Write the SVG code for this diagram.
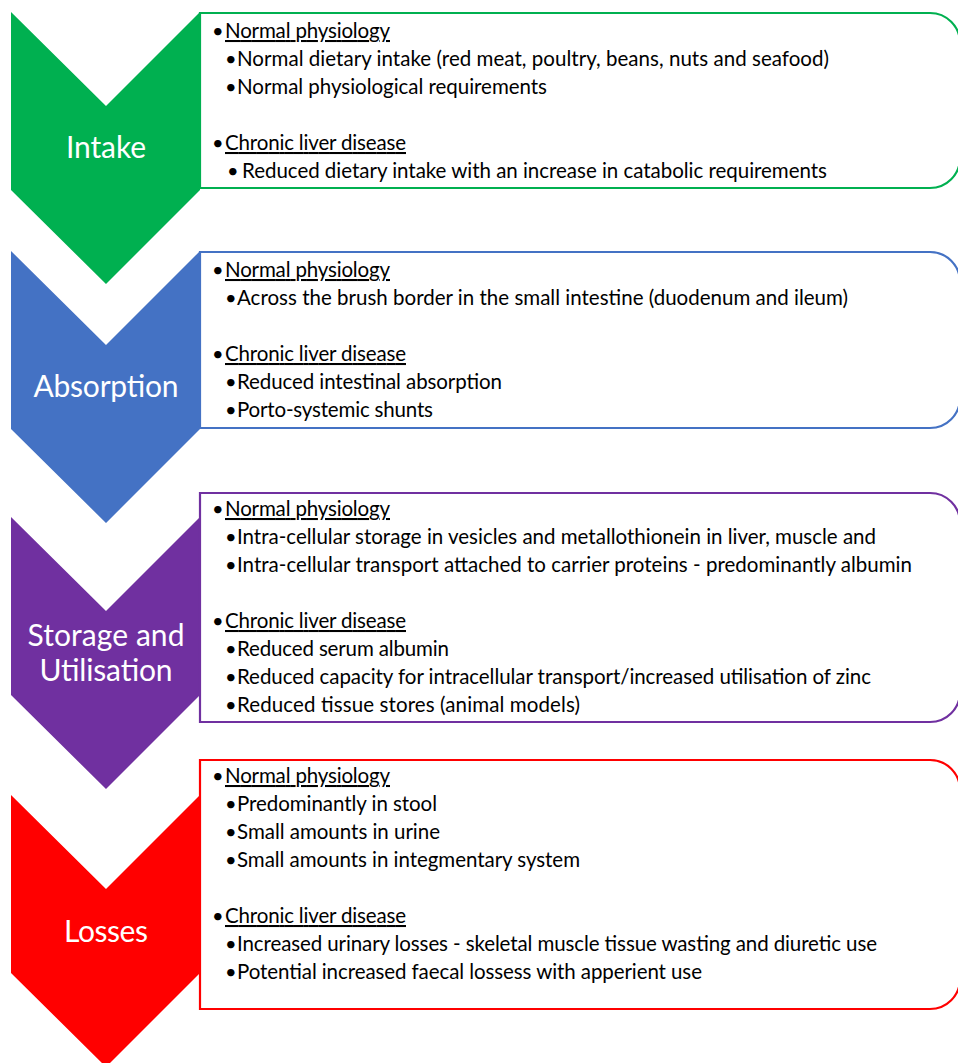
<svg xmlns="http://www.w3.org/2000/svg" width="958" height="1063" viewBox="0 0 958 1063">
<style>
.t{font-family:Lato,"Liberation Sans",sans-serif;font-size:20.5px;fill:#000}
.b{font-family:Lato,"Liberation Sans",sans-serif;font-size:20px;fill:#000}
.h{text-decoration:underline}
.c{font-family:Lato,"Liberation Sans",sans-serif;font-size:30px;fill:#fff;text-anchor:middle}
.box{fill:#fff;stroke-width:2.2}
</style>
<rect width="958" height="1063" fill="#fff"/>
<g id="intake">
<path d="M11,12 L106,106 L200,12 L200,190 L106,284 L11,190 Z" fill="#00B050"/>
<path class="box" stroke="#00B050" d="M200,13 H930 A30,30 0 0 1 960,43 V158 A30,30 0 0 1 930,188 H200 Z"/>
<text class="c" x="106" y="158" textLength="80">Intake</text>
<text class="b" x="212" y="38">•</text><text class="t h" x="225" y="38" textLength="165">Normal physiology</text>
<text class="b" x="225" y="66">•</text><text class="t" x="237" y="66" textLength="592">Normal dietary intake (red meat, poultry, beans, nuts and seafood)</text>
<text class="b" x="225" y="94">•</text><text class="t" x="237" y="94" textLength="310">Normal physiological requirements</text>
<text class="b" x="212" y="150">•</text><text class="t h" x="225" y="150" textLength="181">Chronic liver disease</text>
<text class="b" x="227" y="178">•</text><text class="t" x="242" y="178" textLength="585">Reduced dietary intake with an increase in catabolic requirements</text>
</g>
<g id="absorption">
<path d="M11,251 L106,345 L200,251 L200,429 L106,523 L11,429 Z" fill="#4472C4"/>
<path class="box" stroke="#4472C4" d="M200,252 H930 A30,30 0 0 1 960,282 V398 A30,30 0 0 1 930,428 H200 Z"/>
<text class="c" x="106" y="397" textLength="145">Absorption</text>
<text class="b" x="212" y="277">•</text><text class="t h" x="225" y="277" textLength="165">Normal physiology</text>
<text class="b" x="225" y="305">•</text><text class="t" x="237" y="305" textLength="611">Across the brush border in the small intestine (duodenum and ileum)</text>
<text class="b" x="212" y="361">•</text><text class="t h" x="225" y="361" textLength="181">Chronic liver disease</text>
<text class="b" x="225" y="389">•</text><text class="t" x="237" y="389" textLength="265">Reduced intestinal absorption</text>
<text class="b" x="225" y="417">•</text><text class="t" x="237" y="417" textLength="196">Porto-systemic shunts</text>
</g>
<g id="storage">
<path d="M11,517 L106,611 L200,517 L200,695 L106,789 L11,695 Z" fill="#7030A0"/>
<path class="box" stroke="#7030A0" d="M200,493 H930 A30,30 0 0 1 960,523 V692 A30,30 0 0 1 930,722 H200 Z"/>
<text class="c" x="106" y="646" textLength="157">Storage and</text>
<text class="c" x="106" y="681" textLength="133">Utilisation</text>
<text class="b" x="212" y="516">•</text><text class="t h" x="225" y="516" textLength="165">Normal physiology</text>
<text class="b" x="225" y="544">•</text><text class="t" x="237" y="544" textLength="639">Intra-cellular storage in vesicles and metallothionein in liver, muscle and</text>
<text class="b" x="225" y="572">•</text><text class="t" x="237" y="572" textLength="675">Intra-cellular transport attached to carrier proteins - predominantly albumin</text>
<text class="b" x="212" y="628">•</text><text class="t h" x="225" y="628" textLength="181">Chronic liver disease</text>
<text class="b" x="225" y="656">•</text><text class="t" x="237" y="656" textLength="212">Reduced serum albumin</text>
<text class="b" x="225" y="684">•</text><text class="t" x="237" y="684" textLength="634">Reduced capacity for intracellular transport/increased utilisation of zinc</text>
<text class="b" x="225" y="712">•</text><text class="t" x="237" y="712" textLength="343">Reduced tissue stores (animal models)</text>
</g>
<g id="losses">
<path d="M11,795 L106,889 L200,795 L200,973 L106,1067 L11,973 Z" fill="#FF0000"/>
<path class="box" stroke="#FF0000" d="M200,760 H930 A30,30 0 0 1 960,790 V979 A30,30 0 0 1 930,1009 H200 Z"/>
<text class="c" x="106" y="942" textLength="84">Losses</text>
<text class="b" x="212" y="783">•</text><text class="t h" x="225" y="783" textLength="165">Normal physiology</text>
<text class="b" x="225" y="811">•</text><text class="t" x="237" y="811" textLength="200">Predominantly in stool</text>
<text class="b" x="225" y="839">•</text><text class="t" x="237" y="839" textLength="203">Small amounts in urine</text>
<text class="b" x="225" y="867">•</text><text class="t" x="237" y="867" textLength="343">Small amounts in integmentary system</text>
<text class="b" x="212" y="923">•</text><text class="t h" x="225" y="923" textLength="181">Chronic liver disease</text>
<text class="b" x="225" y="951">•</text><text class="t" x="237" y="951" textLength="640">Increased urinary losses - skeletal muscle tissue wasting and diuretic use</text>
<text class="b" x="225" y="979">•</text><text class="t" x="237" y="979" textLength="465">Potential increased faecal lossess with apperient use</text>
</g>
<g id="connectors"/>
</svg>
